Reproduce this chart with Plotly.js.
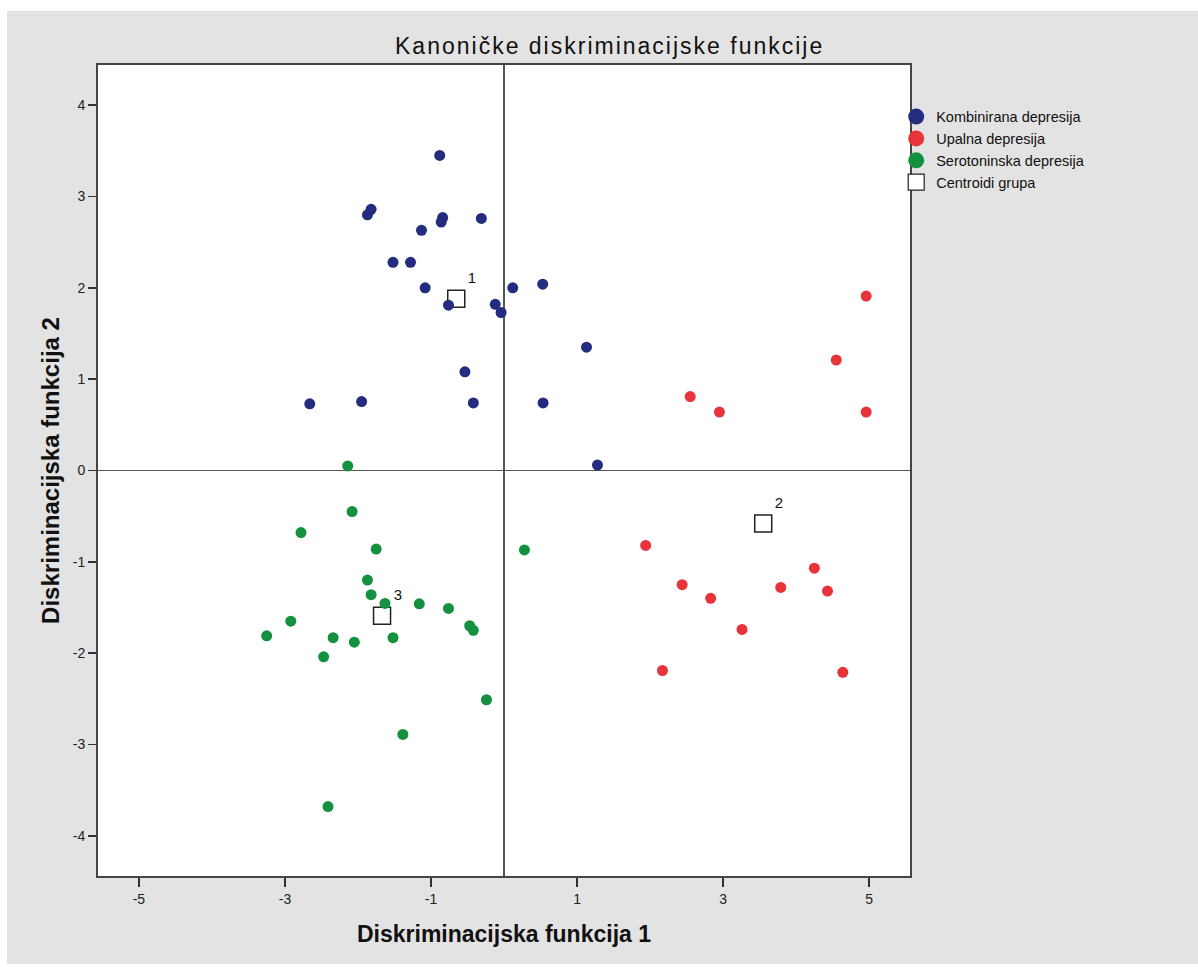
<!DOCTYPE html>
<html>
<head>
<meta charset="utf-8">
<script src="https://cdn.plot.ly/plotly-3.0.1.min.js"></script>
<style>
  html, body { margin: 0; padding: 0; background: #ffffff; }
  #chart { position: absolute; left: 7px; top: 11px; width: 1191px; height: 953px; }
  #chart .gtitle { letter-spacing: 2px; }
</style>
</head>
<body>
<div id="chart"></div>
<script>
// Group 1: Kombinirana depresija
const kombX = [-0.88, -1.82, -1.87, -0.84, -0.86, -0.31, -1.13, -1.52, -1.28, -1.08, -0.76, -0.12, -0.04, 0.12, 0.53, 1.13, 0.535, 1.28, -0.535, -0.42, -2.66, -1.95];
const kombY = [3.45, 2.86, 2.80, 2.77, 2.72, 2.76, 2.63, 2.28, 2.28, 2.00, 1.81, 1.82, 1.73, 2.00, 2.04, 1.35, 0.74, 0.06, 1.08, 0.74, 0.73, 0.755];
// Group 2: Upalna depresija
const upalX = [4.96, 4.55, 2.55, 2.95, 4.96, 1.94, 2.44, 2.83, 3.26, 2.17, 3.79, 4.25, 4.43, 4.64];
const upalY = [1.91, 1.21, 0.81, 0.64, 0.64, -0.82, -1.25, -1.40, -1.74, -2.19, -1.28, -1.07, -1.32, -2.21];
// Group 3: Serotoninska depresija
const seroX = [-2.14, -2.08, -2.78, -1.75, -1.87, -1.82, -1.63, -1.16, -0.76, -0.47, -0.42, -2.92, -3.25, -2.34, -2.05, -1.52, -2.47, -0.24, -1.385, -2.41, 0.28];
const seroY = [0.05, -0.45, -0.68, -0.86, -1.20, -1.36, -1.455, -1.46, -1.51, -1.70, -1.75, -1.65, -1.81, -1.83, -1.88, -1.83, -2.04, -2.51, -2.89, -3.68, -0.87];
// Group centroids
const centX = [-0.654, 3.55, -1.67];
const centY = [1.88, -0.58, -1.59];
const centLabels = ["1", "2", "3"];

const seriesNames = ["Kombinirana depresija", "Upalna depresija", "Serotoninska depresija", "Centroidi grupa"];
const xTicks = [-5, -3, -1, 1, 3, 5];
const yTicks = [-4, -3, -2, -1, 0, 1, 2, 3, 4];

const cBlue = "#232c7e", cRed = "#e8333a", cGreen = "#14913f";
const sans = "Liberation Sans, Arial, sans-serif";

const traces = [
  { x: centX, y: centY, text: centLabels, mode: "markers+text", type: "scatter",
    textposition: "top right", textfont: { family: sans, size: 15, color: "#111" },
    marker: { symbol: "square", size: 17, color: "#ffffff", line: { color: "#222", width: 1.5 } },
    showlegend: false, hoverinfo: "x+y" },
  { x: kombX, y: kombY, mode: "markers", type: "scatter", name: seriesNames[0],
    marker: { size: 11, color: cBlue }, showlegend: false },
  { x: upalX, y: upalY, mode: "markers", type: "scatter", name: seriesNames[1],
    marker: { size: 11, color: cRed }, showlegend: false },
  { x: seroX, y: seroY, mode: "markers", type: "scatter", name: seriesNames[2],
    marker: { size: 11, color: cGreen }, showlegend: false },
  // legend entries
  { x: [null], y: [null], mode: "markers", type: "scatter", name: seriesNames[0], marker: { size: 16, color: cBlue } },
  { x: [null], y: [null], mode: "markers", type: "scatter", name: seriesNames[1], marker: { size: 16, color: cRed } },
  { x: [null], y: [null], mode: "markers", type: "scatter", name: seriesNames[2], marker: { size: 16, color: cGreen } },
  { x: [null], y: [null], mode: "markers", type: "scatter", name: seriesNames[3],
    marker: { symbol: "square", size: 16, color: "#ffffff", line: { color: "#222", width: 1.2 } } }
];

const tickFont = { family: sans, size: 14, color: "#222" };

const layout = {
  width: 1191, height: 953,
  paper_bgcolor: "#e3e3e3", plot_bgcolor: "#ffffff",
  margin: { l: 91, r: 288, t: 54, b: 88 },
  title: { text: "Kanoničke diskriminacijske funkcije", xref: "container", x: 0.506, xanchor: "center",
           yref: "container", y: 0.963, yanchor: "middle",
           font: { family: sans, size: 23, color: "#111" } },
  xaxis: {
    range: [-5.56, 5.56], tickvals: xTicks, ticktext: xTicks.map(String),
    ticks: "outside", ticklen: 9, tickwidth: 1.5, tickcolor: "#333",
    showgrid: false, zeroline: true, zerolinecolor: "#555", zerolinewidth: 1.5,
    showline: true, linecolor: "#444", linewidth: 2, mirror: true,
    tickfont: tickFont,
    title: { text: "Diskriminacijska funkcija 1", font: { family: sans, size: 23, color: "#111", weight: "bold" }, standoff: 20 }
  },
  yaxis: {
    range: [-4.44, 4.44], tickvals: yTicks, ticktext: yTicks.map(String),
    ticks: "outside", ticklen: 8, tickwidth: 1.5, tickcolor: "#333",
    showgrid: false, zeroline: true, zerolinecolor: "#555", zerolinewidth: 1.5,
    showline: true, linecolor: "#444", linewidth: 2, mirror: true,
    tickfont: tickFont,
    title: { text: "Diskriminacijska funkcija 2", font: { family: sans, size: 24, color: "#111", weight: "bold" }, standoff: 6 }
  },
  legend: {
    x: 0.983, y: 0.956, xanchor: "left", yanchor: "top",
    bgcolor: "rgba(0,0,0,0)", borderwidth: 0,
    font: { family: sans, size: 14.5, color: "#111" },
    itemwidth: 30, tracegroupgap: 0
  },
  showlegend: true
};

Plotly.newPlot("chart", traces, layout, { displayModeBar: false, staticPlot: true });
</script>
</body>
</html>
